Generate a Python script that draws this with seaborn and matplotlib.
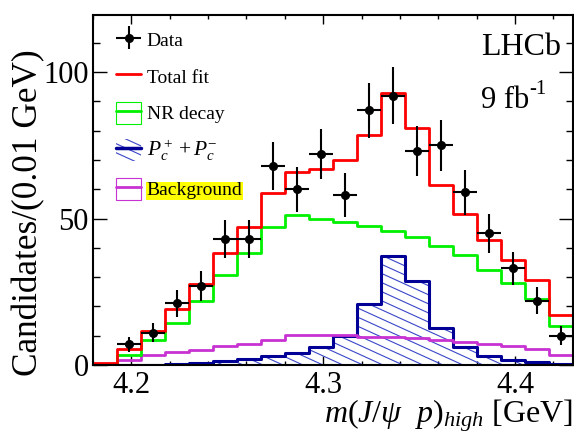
import numpy as np
import pandas as pd
import matplotlib
matplotlib.use("Agg")
import matplotlib.pyplot as plt
import matplotlib.hatch as mhatch
from matplotlib.path import Path
from matplotlib.patches import Rectangle
from matplotlib.lines import Line2D
from matplotlib.container import ErrorbarContainer
from matplotlib.legend_handler import HandlerErrorbar
from matplotlib.ticker import MultipleLocator
import seaborn as sns

# ---------------- data ----------------
bin_edges = [4.18, 4.1925, 4.205, 4.2175, 4.23, 4.2425, 4.255, 4.2675, 4.28,
             4.2925, 4.305, 4.3175, 4.33, 4.3425, 4.355, 4.3675, 4.38,
             4.3925, 4.405, 4.4175, 4.43]
data_counts = [0, 7, 11, 21, 27, 43, 43, 68, 60, 72, 58, 87, 92, 73, 75, 59,
               45, 33, 22, 10]
total_fit = [0.7, 5.6, 11.6, 19.0, 27.5, 38.2, 47.2, 58.8, 66.0, 66.8, 70.0,
             78.5, 92.9, 80.9, 61.6, 51.6, 42.8, 36.0, 28.9, 17.2]
nr_decay = [0.0, 3.4, 8.4, 14.5, 21.9, 30.6, 38.2, 47.0, 51.1, 50.0, 48.8,
            47.3, 45.6, 43.6, 40.5, 37.4, 32.3, 28.0, 22.4, 13.2]
pc_signal = [0.05, 0.1, 0.15, 0.3, 0.6, 1.2, 1.9, 3.0, 4.1, 6.1, 9.8, 20.9,
             37.2, 28.6, 12.6, 6.1, 3.0, 1.6, 0.9, 0.5]
background = [0.3, 1.8, 3.3, 4.4, 5.2, 6.4, 7.3, 8.7, 10.1, 10.1, 10.1, 9.6,
              9.5, 9.2, 8.7, 7.9, 7.3, 6.5, 5.6, 3.5]
legend_labels = ["Data", "Total fit", "NR decay", r"$P_c^+ + P_c^{-}$",
                 "Background"]

RED = "#ff0000"
GREEN = "#00f000"
NAVY = "#000096"
HATCH_BLUE = "#3a46c8"
MAGENTA = "#c832d2"


# ---------------- shallow "\\" hatch like ROOT's fill style ----------------
class ShallowSEHatch(mhatch.HatchPatternBase):
    def __init__(self, hatch, density):
        self.n = 11 if hatch.count("\\") else 0
        self.shift = 5
        self.num_lines = self.n + self.shift + 1 if self.n else 0
        self.num_vertices = self.num_lines * 2

    def set_vertices_and_codes(self, vertices, codes):
        y0 = np.arange(self.num_lines) / self.n
        vertices[0::2, 0] = 0.0
        vertices[0::2, 1] = y0
        vertices[1::2, 0] = 1.0
        vertices[1::2, 1] = y0 - self.shift / self.n
        codes[0::2] = Path.MOVETO
        codes[1::2] = Path.LINETO


mhatch._hatch_types = [ShallowSEHatch if t is mhatch.SouthEastHatch else t
                       for t in mhatch._hatch_types]

# ---------------- style ----------------
sns.set_theme(style="ticks", rc={
    "axes.edgecolor": "black", "xtick.color": "black", "ytick.color": "black",
    "text.color": "black", "axes.labelcolor": "black",
})
plt.rcParams["font.family"] = ["Liberation Serif", "DejaVu Serif"]
plt.rcParams["mathtext.fontset"] = "custom"
plt.rcParams["mathtext.rm"] = "Liberation Serif"
plt.rcParams["mathtext.it"] = "Liberation Serif:italic"
plt.rcParams["mathtext.bf"] = "Liberation Serif:bold"
plt.rcParams["hatch.linewidth"] = 0.8

edges = np.array(bin_edges)
centers = 0.5 * (edges[:-1] + edges[1:])
half_width = 0.5 * np.diff(edges)
df = pd.DataFrame({"mass": centers, "data": data_counts, "total": total_fit,
                   "nr": nr_decay, "pc": pc_signal, "bkg": background,
                   "xerr": half_width})

fig = plt.figure(figsize=(5.74, 4.34), dpi=100)
ax = fig.add_axes([93 / 574, 69 / 434, 479.5 / 574, 350 / 434])

# P_c hatched area + outline
sns.histplot(data=df, x="mass", weights="pc", bins=bin_edges, element="step",
             fill=True, color=HATCH_BLUE, facecolor="none",
             edgecolor=HATCH_BLUE, linewidth=0, hatch="\\\\", ax=ax)
sns.histplot(data=df, x="mass", weights="pc", bins=bin_edges, element="step",
             fill=False, color=NAVY, linewidth=2.2, ax=ax)
# background
sns.histplot(data=df, x="mass", weights="bkg", bins=bin_edges, element="step",
             fill=False, color=MAGENTA, linewidth=2.0, ax=ax)
# NR decay
sns.histplot(data=df, x="mass", weights="nr", bins=bin_edges, element="step",
             fill=False, color=GREEN, linewidth=2.0, ax=ax)
# total fit
sns.histplot(data=df, x="mass", weights="total", bins=bin_edges, element="step",
             fill=False, color=RED, linewidth=2.0, ax=ax)

# data points
dpts = df[df["data"] > 0]
eb = ax.errorbar(dpts["mass"], dpts["data"], xerr=dpts["xerr"],
                 yerr=np.sqrt(dpts["data"]), fmt="o", color="black", ms=5.5,
                 elinewidth=1.5, capsize=0, zorder=6)

# axes
ax.set_xlim(4.18, 4.43)
ax.set_ylim(0, 119.5)
ax.xaxis.set_major_locator(MultipleLocator(0.1))
ax.xaxis.set_minor_locator(MultipleLocator(0.02))
ax.yaxis.set_major_locator(MultipleLocator(50))
ax.yaxis.set_minor_locator(MultipleLocator(10))
ax.tick_params(which="both", direction="in", top=True, right=True, width=1.0)
ax.tick_params(axis="x", which="major", length=6.5, pad=4, labelsize=22)
ax.tick_params(axis="x", which="minor", length=3.2)
ax.tick_params(axis="y", which="major", length=10, pad=3, labelsize=22)
ax.tick_params(axis="y", which="minor", length=5)
for s in ax.spines.values():
    s.set_linewidth(1.5)
    s.set_color("black")

ax.set_ylabel("Candidates/(0.01 GeV)", fontsize=25.4)
ax.yaxis.set_label_coords(-0.10, 0.434)
ax.set_xlabel(r"$m(J/\psi\ \ p)_{high}$ [GeV]", fontsize=23, loc="right")
ax.xaxis.set_label_coords(1.0, -0.092)

ax.text(0.81, 0.886, "LHCb", transform=ax.transAxes, fontsize=23,
        ha="left", va="baseline")
t9 = ax.text(0.81, 0.734, "9 fb", transform=ax.transAxes, fontsize=22,
             ha="left", va="baseline")
ax.annotate("-1", xy=(1.0, 0.55), xycoords=t9, fontsize=15,
            ha="left", va="bottom")

# legend
h_total = Line2D([], [], color=RED, lw=2)
h_nr = (Rectangle((0, 0), 1, 1, facecolor="none", edgecolor=GREEN, lw=0.8),
        Line2D([], [], color=GREEN, lw=2))
h_pc = (Rectangle((0, 0), 1, 1, facecolor="none", edgecolor=HATCH_BLUE, lw=0,
                  hatch="\\\\"),
        Line2D([], [], color=NAVY, lw=2.5))
h_bkg = (Rectangle((0, 0), 1, 1, facecolor="none", edgecolor=MAGENTA, lw=0.8),
         Line2D([], [], color=MAGENTA, lw=2))
leg = ax.legend([eb, h_total, h_nr, h_pc, h_bkg], legend_labels,
                loc="upper left", bbox_to_anchor=(0.048, 0.96),
                frameon=False, fontsize=14, handlelength=1.3,
                handleheight=1.35, handletextpad=0.28, labelspacing=0.75,
                borderpad=0, borderaxespad=0,
                handler_map={ErrorbarContainer:
                             HandlerErrorbar(xerr_size=0.65, yerr_size=0.6)})
leg.get_texts()[3].set_fontsize(15.5)
leg.get_texts()[4].set_bbox(dict(facecolor="#ffff00", edgecolor="none",
                                 pad=0.5))

fig.savefig("out.png", dpi=100)
